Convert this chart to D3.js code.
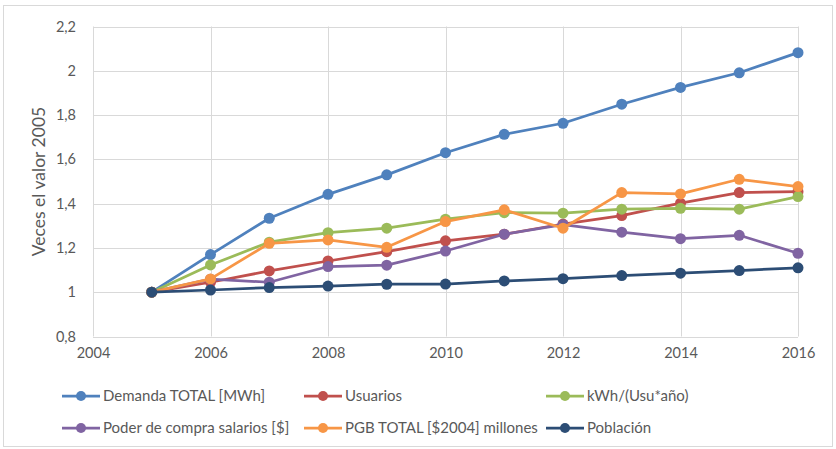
<!DOCTYPE html>
<html>
<head>
<meta charset="utf-8">
<script src="https://cdn.jsdelivr.net/npm/d3@7"></script>
<style>
  html, body { margin: 0; padding: 0; background: #fff; }
  svg { display: block; font-family: Lato, "Open Sans", sans-serif; }
</style>
</head>
<body>
<svg id="chart" width="836" height="449"></svg>
<script>
// Years on the x axis
const years = [2005, 2006, 2007, 2008, 2009, 2010, 2011, 2012, 2013, 2014, 2015, 2016];

// Indices relative to 2005 (2005 = 1)
const demandaTotal = [1.00, 1.17, 1.334, 1.442, 1.530, 1.630, 1.713, 1.763, 1.849, 1.925, 1.991, 2.082];
const usuarios     = [1.00, 1.045, 1.096, 1.141, 1.183, 1.232, 1.262, 1.308, 1.346, 1.402, 1.450, 1.454];
const kwhUsuAno    = [1.00, 1.123, 1.226, 1.269, 1.289, 1.330, 1.359, 1.357, 1.375, 1.379, 1.375, 1.432];
const poderCompra  = [1.00, 1.059, 1.045, 1.116, 1.122, 1.186, 1.262, 1.305, 1.271, 1.242, 1.257, 1.176];
const pgbTotal     = [1.00, 1.060, 1.221, 1.236, 1.203, 1.319, 1.372, 1.289, 1.450, 1.444, 1.510, 1.477];
const poblacion    = [1.00, 1.010, 1.021, 1.028, 1.036, 1.037, 1.051, 1.061, 1.075, 1.086, 1.098, 1.110];

const seriesNames = [
  "Demanda TOTAL [MWh]", "Usuarios", "kWh/(Usu*año)",
  "Poder de compra salarios [$]", "PGB TOTAL [$2004] millones", "Población"
];
const seriesValues = [demandaTotal, usuarios, kwhUsuAno, poderCompra, pgbTotal, poblacion];
const seriesColors = ["#4F81BD", "#C0504D", "#9BBB59", "#8064A2", "#F79646", "#2C4D75"];

const xTicks = [2004, 2006, 2008, 2010, 2012, 2014, 2016];
const yTicks = [0.8, 1, 1.2, 1.4, 1.6, 1.8, 2, 2.2];

const svg = d3.select("#chart");
const W = 836, H = 449;

// Outer chart frame
svg.append("rect")
  .attr("x", 3.5).attr("y", 5.5)
  .attr("width", W - 7).attr("height", H - 8)
  .attr("fill", "#fff").attr("stroke", "#d9d9d9").attr("stroke-width", 1);

const plot = { left: 93, right: 798, top: 26.5, bottom: 336.5 };

const x = d3.scaleLinear().domain([2004, 2016]).range([plot.left, plot.right]);
const y = d3.scaleLinear().domain([0.8, 2.2]).range([plot.bottom, plot.top]);

const fmt = v => d3.format(",")(v).replace(".", ",");

// Gridlines
const grid = svg.append("g");
grid.selectAll("line.h").data(yTicks).join("line")
  .attr("x1", plot.left).attr("x2", plot.right)
  .attr("y1", d => Math.round(y(d)) + 0.5).attr("y2", d => Math.round(y(d)) + 0.5)
  .attr("stroke", "#d9d9d9").attr("stroke-width", 1);
grid.selectAll("line.v").data(xTicks).join("line")
  .attr("y1", plot.top).attr("y2", plot.bottom)
  .attr("x1", d => Math.round(x(d)) + 0.5).attr("x2", d => Math.round(x(d)) + 0.5)
  .attr("stroke", "#d9d9d9").attr("stroke-width", 1);

// Axes (labels only, lines come from the grid)
const yAxis = d3.axisLeft(y).tickValues(yTicks).tickFormat(fmt).tickSize(0).tickPadding(17);
const gy = svg.append("g").attr("transform", `translate(${plot.left},0)`).call(yAxis);
gy.select(".domain").remove();
gy.selectAll("text").attr("fill", "#595959").style("font-size", "14.5px")
  .style("font-family", "Lato, sans-serif");

const xAxis = d3.axisBottom(x).tickValues(xTicks).tickFormat(d3.format("d")).tickSize(0).tickPadding(11);
const gx = svg.append("g").attr("transform", `translate(0,${plot.bottom})`).call(xAxis);
gx.select(".domain").remove();
gx.selectAll("text").attr("fill", "#595959").style("font-size", "14.5px")
  .style("font-family", "Lato, sans-serif");

// Y axis title
svg.append("text")
  .attr("transform", `translate(45,${(plot.top + plot.bottom) / 2}) rotate(-90)`)
  .attr("text-anchor", "middle")
  .attr("fill", "#595959").style("font-size", "17.5px")
  .text("Veces el valor 2005");

// Series lines with markers
const line = d3.line().x((d, i) => x(years[i])).y(d => y(d));
seriesValues.forEach((vals, s) => {
  const g = svg.append("g");
  g.append("path").datum(vals)
    .attr("d", line).attr("fill", "none")
    .attr("stroke", seriesColors[s]).attr("stroke-width", 2.75)
    .attr("stroke-linejoin", "round");
  g.selectAll("circle").data(vals).join("circle")
    .attr("cx", (d, i) => x(years[i])).attr("cy", d => y(d))
    .attr("r", 5.5).attr("fill", seriesColors[s]);
});

// Legend
const legendCols = [62, 304, 546];
const legendRows = [396, 428];
const legend = svg.append("g");
seriesNames.forEach((name, i) => {
  const lx = legendCols[i % 3], ly = legendRows[Math.floor(i / 3)];
  const g = legend.append("g").attr("transform", `translate(${lx},${ly})`);
  g.append("line").attr("x1", 0).attr("x2", 38).attr("y1", 0).attr("y2", 0)
    .attr("stroke", seriesColors[i]).attr("stroke-width", 2.75);
  g.append("circle").attr("cx", 19).attr("cy", 0).attr("r", 5).attr("fill", seriesColors[i]);
  g.append("text").attr("x", 41).attr("y", 0).attr("dy", "0.35em")
    .attr("fill", "#595959").style("font-size", "15px").text(name);
});
</script>
</body>
</html>
